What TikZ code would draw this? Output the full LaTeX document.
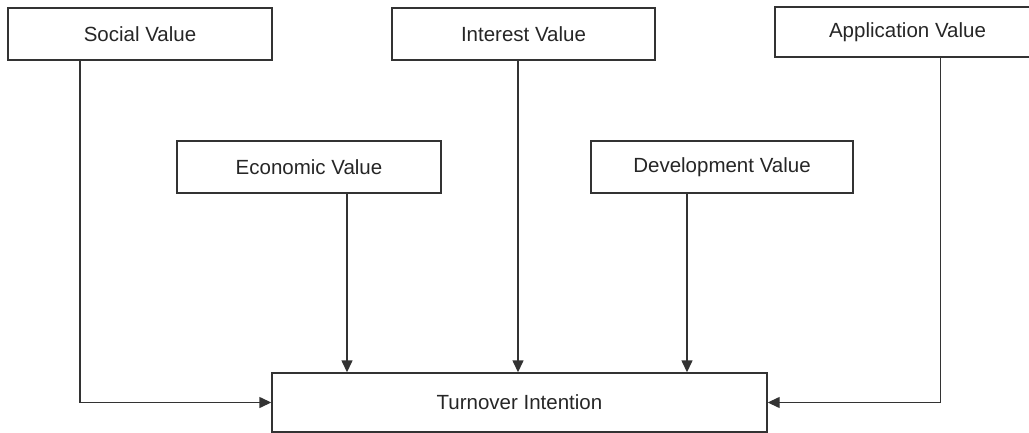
\documentclass[tikz,border=0pt]{standalone}
\usepackage{fontspec}
\setmainfont{Liberation Sans}
\usetikzlibrary{arrows.meta}
\begin{document}
\begin{tikzpicture}[x=1pt,y=-1pt,
  box/.style={draw=black!80, line width=1.4pt, rectangle, inner sep=0pt,
    minimum height=52pt, font=\fontsize{20.5}{24}\selectfont, text=black!85},
  conn/.style={draw=black!80, line width=1.4pt, -{Triangle[length=12pt,width=11pt]}}]
\useasboundingbox (0,0) rectangle (1029,433);
\clip (0,0) rectangle (1029,433);
\node[box, minimum width=264pt] (social) at (140,34) {Social Value};
\node[box, minimum width=263pt] (interest) at (523.5,34) {Interest Value};
\node[box, minimum width=265pt, minimum height=50pt] (application) at (907.5,32) {Application Value};
\node[box, minimum width=264pt] (economic) at (309,167) {Economic Value};
\node[box, minimum width=262pt] (development) at (722,167) {Development Value};
\node[box, minimum width=495pt, minimum height=59pt] (turnover) at (519.5,402.5) {Turnover Intention};
\draw[conn] ([xshift=-60pt]social.south) |- (turnover.west);
\draw[conn] ([xshift=33pt]application.south) |- (turnover.east);
\draw[conn] ([xshift=-5.5pt]interest.south) -- ([xshift=-5.5pt]interest.south |- turnover.north);
\draw[conn] ([xshift=38pt]economic.south) -- ([xshift=38pt]economic.south |- turnover.north);
\draw[conn] ([xshift=-35pt]development.south) -- ([xshift=-35pt]development.south |- turnover.north);
\end{tikzpicture}
\end{document}
